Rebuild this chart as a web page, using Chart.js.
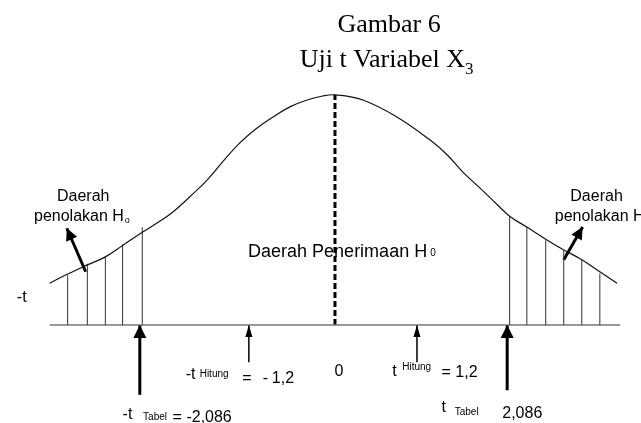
<!DOCTYPE html>
<html>
<head>
<meta charset="utf-8">
<script src="https://cdn.jsdelivr.net/npm/chart.js@4/dist/chart.umd.min.js"></script>
<style>
  html, body { margin: 0; padding: 0; background: #fff; }
  #wrap { width: 641px; height: 423px; position: relative; }
</style>
</head>
<body>
<div id="wrap"><canvas id="chart"></canvas></div>
<script>
// --- Curve (t-like units, height like a density) ---
const curveX = [-3.48, -3.26, -3.02, -2.80, -2.59, -2.35, -2.17, -1.98, -1.77, -1.56, -1.37, -1.16, -0.95, -0.76, -0.55, -0.34, -0.15, 0,
                0.34, 0.76, 1.16, 1.37, 1.56, 1.77, 1.98, 2.13, 2.34, 2.58, 2.78, 3.01, 3.23, 3.44];
const curveY = [0.073, 0.089, 0.105, 0.119, 0.139, 0.162, 0.178, 0.197, 0.224, 0.253, 0.285, 0.318, 0.344, 0.363, 0.381, 0.393, 0.400, 0.402,
                0.393, 0.363, 0.323, 0.297, 0.267, 0.239, 0.210, 0.190, 0.171, 0.149, 0.132, 0.114, 0.093, 0.073];

// --- Hatching of the rejection regions ---
const hatchLeftX = [-3.26, -3.02, -2.80, -2.59, -2.35];
const hatchLeftTop = [0.087, 0.107, 0.119, 0.141, 0.171];
const hatchRightX = [2.13, 2.34, 2.57, 2.79, 3.01, 3.23];
const hatchRightTop = [0.190, 0.171, 0.148, 0.130, 0.114, 0.090];

// --- Axis line and centre ---
const axisX = [-3.48, 3.48];
const peakY = 0.402;

// --- Arrows pointing at the critical / computed values ---
const tabelArrowX = [-2.38, 2.10];
const tabelArrowFrom = [-0.122, -0.114];
const hitungArrowX = [-1.05, 1.00];
const hitungArrowFrom = [-0.065, -0.065];
const tolakArrowFromX = [-3.04, 2.79];
const tolakArrowFromY = [0.093, 0.114];
const tolakArrowToX = [-3.27, 3.02];
const tolakArrowToY = [0.169, 0.171];

// --- Texts (a "follow" entry continues right after the previous one) ---
const sans = '"Liberation Sans", Arial, sans-serif';
const serif = '"Liberation Serif", "Times New Roman", serif';
const labels = [
  { t: 'Gambar 6', x: 0.66, y: 0.512, size: 26, font: serif, align: 'center', base: 'alphabetic' },
  { t: 'Uji t Variabel X', x: -0.43, y: 0.451, size: 26, font: serif, align: 'left', base: 'alphabetic' },
  { t: '3', follow: 0, dy: 7, size: 17, font: serif, base: 'alphabetic' },

  { t: 'Daerah', x: -3.07, y: 0.225, size: 16, align: 'center' },
  { t: 'penolakan H', x: -3.67, y: 0.190, size: 16, align: 'left' },
  { t: 'o', follow: 1, dy: 4, size: 9 },
  { t: 'Daerah', x: 2.87, y: 0.224, size: 16, align: 'left' },
  { t: 'penolakan H', x: 2.68, y: 0.189, size: 16, align: 'left' },
  { t: 'o', follow: 1, dy: 4, size: 9 },
  { t: '-t', x: -3.88, y: 0.047, size: 16, align: 'left' },

  { t: 'Daerah Penerimaan H', x: -1.06, y: 0.128, size: 18, align: 'left' },
  { t: '0', follow: 3, dy: 2, size: 10 },

  { t: '-t', x: -1.82, y: -0.087, size: 16, align: 'left' },
  { t: 'Hitung', x: -1.65, y: -0.086, size: 10, align: 'left' },
  { t: '=', x: -1.13, y: -0.093, size: 16, align: 'left' },
  { t: '-', x: -0.88, y: -0.093, size: 16, align: 'left' },
  { t: '1,2', x: -0.77, y: -0.093, size: 16, align: 'left' },

  { t: '-t', x: -2.59, y: -0.157, size: 16, align: 'left' },
  { t: 'Tabel', x: -2.34, y: -0.161, size: 10, align: 'left' },
  { t: '= -2,086', x: -1.98, y: -0.162, size: 16, align: 'left' },

  { t: '0', x: 0.05, y: -0.082, size: 16, align: 'center' },

  { t: 't', x: 0.70, y: -0.082, size: 16, align: 'left' },
  { t: 'Hitung', x: 0.82, y: -0.073, size: 10, align: 'left' },
  { t: '= 1,2', x: 1.30, y: -0.084, size: 16, align: 'left' },

  { t: 't', x: 1.30, y: -0.145, size: 16, align: 'left' },
  { t: 'Tabel', x: 1.46, y: -0.152, size: 10, align: 'left' },
  { t: '2,086', x: 2.04, y: -0.154, size: 16, align: 'left' }
];

// --- Build datasets ---
function segments(xs, y0s, y1s) {
  const out = [];
  xs.forEach((x, i) => {
    out.push({ x: x, y: y0s[i] }, { x: x, y: y1s[i] }, { x: x, y: null });
  });
  return out;
}

const datasets = [];
datasets.push({
  data: curveX.map((x, i) => ({ x: x, y: curveY[i] })),
  borderColor: '#111', borderWidth: 1.2, tension: 0.4
});
datasets.push({
  data: segments(hatchLeftX, hatchLeftX.map(() => 0), hatchLeftTop),
  borderColor: '#333', borderWidth: 1
});
datasets.push({
  data: segments(hatchRightX, hatchRightX.map(() => 0), hatchRightTop),
  borderColor: '#333', borderWidth: 1
});
datasets.push({
  data: axisX.map(x => ({ x: x, y: 0 })),
  borderColor: '#777', borderWidth: 1.5
});
datasets.push({
  data: [{ x: 0, y: 0 }, { x: 0, y: peakY }],
  borderColor: '#000', borderWidth: 3, borderDash: [6, 3]
});
tabelArrowX.forEach((x, i) => datasets.push({
  data: [{ x: x, y: tabelArrowFrom[i] }, { x: x, y: 0 }],
  borderColor: '#000', borderWidth: 3, arrowHead: [13, 13]
}));
hitungArrowX.forEach((x, i) => datasets.push({
  data: [{ x: x, y: hitungArrowFrom[i] }, { x: x, y: 0 }],
  borderColor: '#000', borderWidth: 1.5, arrowHead: [12, 7]
}));
tolakArrowFromX.forEach((x, i) => datasets.push({
  data: [{ x: x, y: tolakArrowFromY[i] }, { x: tolakArrowToX[i], y: tolakArrowToY[i] }],
  borderColor: '#000', borderWidth: 3, arrowHead: [12, 12]
}));

datasets.forEach(d => {
  d.showLine = true;
  d.pointRadius = 0;
  d.pointHoverRadius = 0;
  d.spanGaps = false;
  d.fill = false;
});

// --- Plugins: arrowheads and texts ---
const arrowPlugin = {
  id: 'arrows',
  afterDatasetsDraw(chart) {
    const ctx = chart.ctx;
    chart.data.datasets.forEach((ds, i) => {
      if (!ds.arrowHead) return;
      const pts = chart.getDatasetMeta(i).data;
      const a = pts[pts.length - 2], b = pts[pts.length - 1];
      const ang = Math.atan2(b.y - a.y, b.x - a.x);
      const len = ds.arrowHead[0], half = ds.arrowHead[1] / 2;
      ctx.save();
      ctx.translate(b.x, b.y);
      ctx.rotate(ang);
      ctx.beginPath();
      ctx.moveTo(0, 0);
      ctx.lineTo(-len, -half);
      ctx.lineTo(-len, half);
      ctx.closePath();
      ctx.fillStyle = ds.borderColor;
      ctx.fill();
      ctx.restore();
    });
  }
};

const textPlugin = {
  id: 'texts',
  afterDraw(chart) {
    const ctx = chart.ctx;
    const xs = chart.scales.x, ys = chart.scales.y;
    let endX = 0, lastY = 0;
    ctx.save();
    ctx.fillStyle = '#000';
    labels.forEach(l => {
      ctx.font = l.size + 'px ' + (l.font || sans);
      ctx.textBaseline = l.base || 'middle';
      let px, py;
      if (l.follow !== undefined) {
        ctx.textAlign = 'left';
        px = endX + l.follow;
        py = lastY + (l.dy || 0);
      } else {
        ctx.textAlign = l.align;
        px = xs.getPixelForValue(l.x);
        py = ys.getPixelForValue(l.y);
        lastY = py;
      }
      ctx.fillText(l.t, px, py);
      const w = ctx.measureText(l.t).width;
      endX = ctx.textAlign === 'center' ? px + w / 2 : px + w;
    });
    ctx.restore();
  }
};

new Chart(document.getElementById('chart'), {
  type: 'scatter',
  data: { datasets: datasets },
  options: {
    responsive: true,
    maintainAspectRatio: false,
    animation: false,
    layout: { padding: 0 },
    scales: {
      x: { type: 'linear', display: false, min: -4.085, max: 3.732 },
      y: { type: 'linear', display: false, min: -0.1712, max: 0.5677 }
    },
    plugins: { legend: { display: false }, tooltip: { enabled: false }, title: { display: false } }
  },
  plugins: [arrowPlugin, textPlugin]
});
</script>
</body>
</html>
